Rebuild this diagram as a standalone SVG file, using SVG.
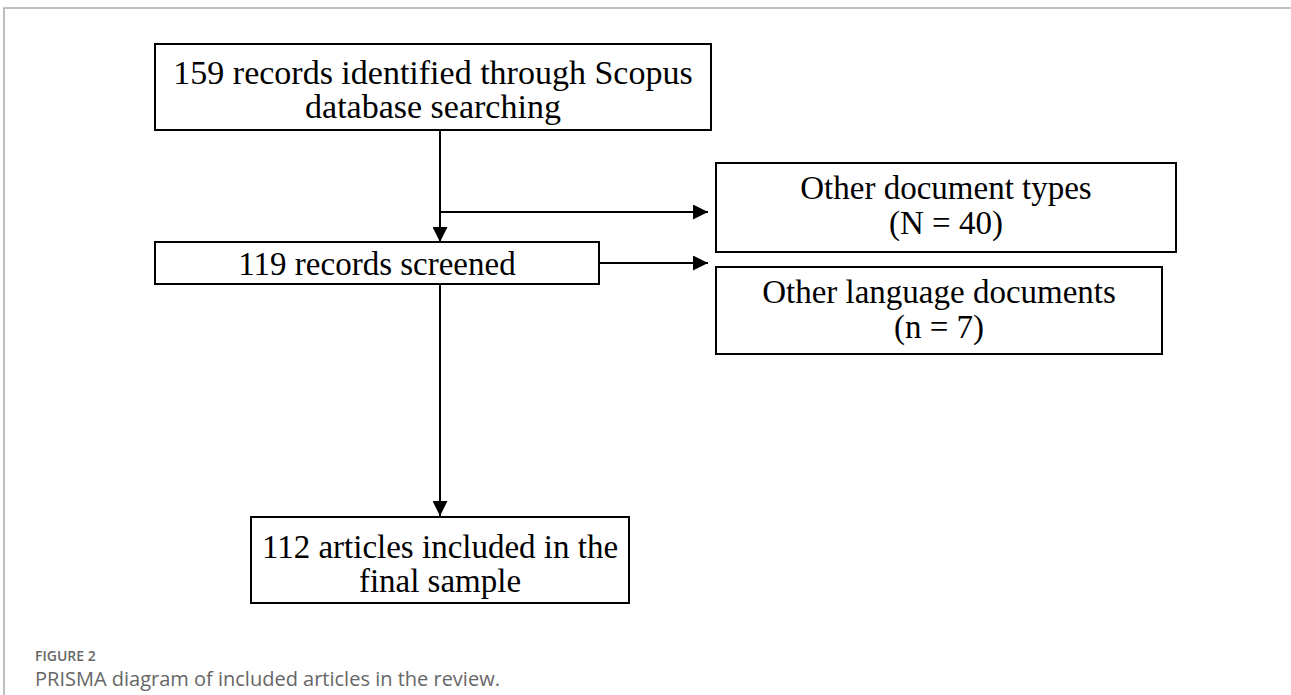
<svg xmlns="http://www.w3.org/2000/svg" width="1291" height="695" viewBox="0 0 1291 695">
<style>
.box{fill:#fff;stroke:#000;stroke-width:2}
.t{font-family:"Liberation Serif","Times New Roman",serif;font-size:33px;fill:#000;text-anchor:middle}
.c{stroke:#000;stroke-width:2;fill:none}
</style>
<defs>
<marker id="ah" viewBox="0 0 10 10" refX="10" refY="5" markerWidth="15" markerHeight="15" markerUnits="userSpaceOnUse" orient="auto">
<path d="M0,0 L10,5 L0,10 z" fill="#000"/>
</marker>
</defs>
<rect width="1291" height="695" fill="#fff"/>
<path d="M4,695 V8 H1291" fill="none" stroke="#aaa" stroke-width="1.5"/>
<g id="connectors">
<line class="c" x1="440" y1="130" x2="440" y2="242" marker-end="url(#ah)"/>
<line class="c" x1="440" y1="212" x2="708" y2="212" marker-end="url(#ah)"/>
<line class="c" x1="599" y1="263" x2="708" y2="263" marker-end="url(#ah)"/>
<line class="c" x1="440" y1="284" x2="440" y2="516" marker-end="url(#ah)"/>
</g>
<g id="n1">
<rect class="box" x="155" y="44" width="556" height="86"/>
<text class="t" x="433" y="84" style="font-size:34px">159 records identified through Scopus</text>
<text class="t" x="433" y="118" style="font-size:34px">database searching</text>
</g>
<g id="n2">
<rect class="box" x="716" y="163" width="460" height="89"/>
<text class="t" x="946" y="199">Other document types</text>
<text class="t" x="946" y="234">(N = 40)</text>
</g>
<g id="n3">
<rect class="box" x="155" y="242" width="444" height="42"/>
<text class="t" x="377" y="275">119 records screened</text>
</g>
<g id="n4">
<rect class="box" x="716" y="267" width="446" height="87"/>
<text class="t" x="939" y="303">Other language documents</text>
<text class="t" x="939" y="338">(n = 7)</text>
</g>
<g id="n5">
<rect class="box" x="251" y="517" width="378" height="86"/>
<text class="t" x="440" y="558">112 articles included in the</text>
<text class="t" x="440" y="592">final sample</text>
</g>
<text x="35" y="661" font-family="'Open Sans','Noto Sans',sans-serif" font-size="14" font-weight="600" fill="#666">FIGURE 2</text>
<text x="35" y="686" font-family="'Open Sans','Noto Sans',sans-serif" font-size="20" fill="#666">PRISMA diagram of included articles in the review.</text>
</svg>
